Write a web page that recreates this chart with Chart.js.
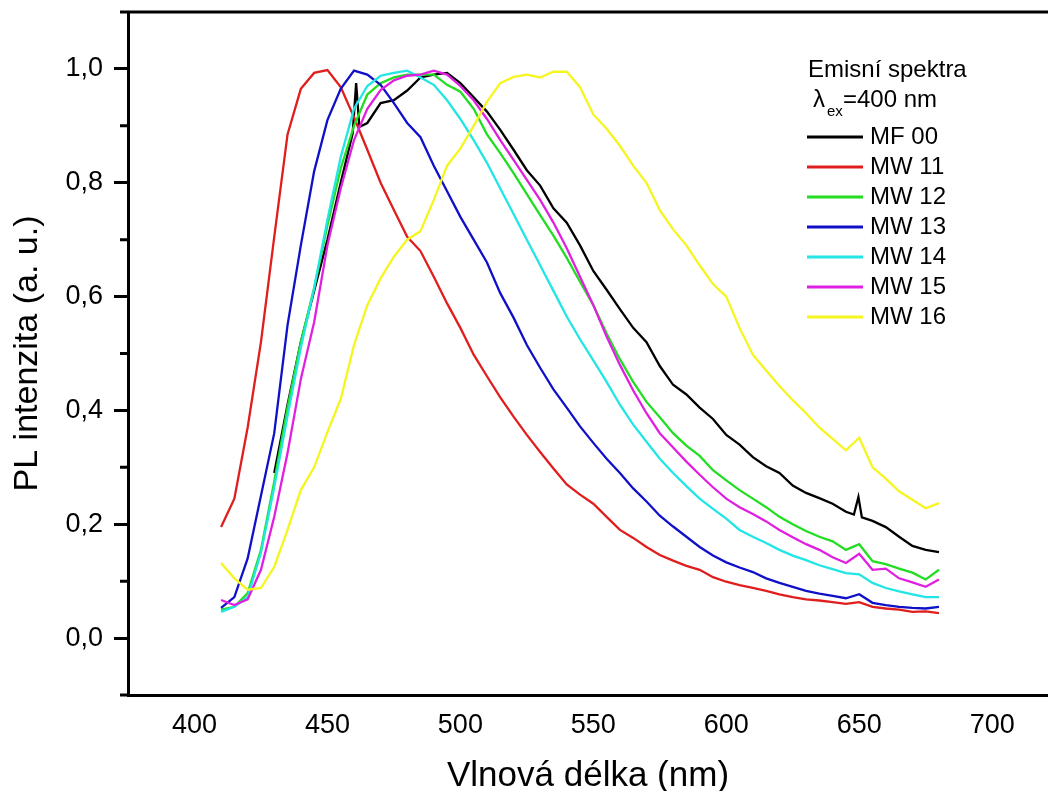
<!DOCTYPE html>
<html>
<head>
<meta charset="utf-8">
<title>Emisní spektra</title>
<script src="https://cdn.jsdelivr.net/npm/chart.js@4.4.0/dist/chart.umd.min.js"></script>
<style>
  html, body { margin: 0; padding: 0; background: #fff; }
</style>
</head>
<body>
<canvas id="spectra" width="1048" height="791"></canvas>
<script>
// wavelength grid (nm) shared by the MW samples
const wavelength = [
  410, 415, 420, 425, 430, 435, 440, 445, 450, 455,
  460, 465, 470, 475, 480, 485, 490, 495, 500, 505,
  510, 515, 520, 525, 530, 535, 540, 545, 550, 555,
  560, 565, 570, 575, 580, 585, 590, 595, 600, 605,
  610, 615, 620, 625, 630, 635, 640, 645, 650, 655,
  660, 665, 670, 675, 680,
];

// MF 00 was measured from 430 nm, with a few extra points around its spikes
const mf00Wavelength = [
  430, 435, 440, 445, 450, 455, 459.5, 460.8, 462,
  465, 470, 475, 480, 485, 490, 495, 500, 505, 510,
  515, 520, 525, 530, 535, 540, 545, 550, 555, 560,
  565, 570, 575, 580, 585, 590, 595, 600, 605, 610,
  615, 620, 625, 630, 635, 640, 645, 648, 649.7, 651,
  655, 660, 665, 670, 675, 680,
];
const mf00 = [
  0.29, 0.41, 0.52, 0.61, 0.70, 0.80, 0.887, 0.975, 0.898,
  0.905, 0.94, 0.945, 0.962, 0.985, 0.99, 0.993, 0.975, 0.95, 0.925,
  0.893, 0.858, 0.822, 0.795, 0.755, 0.73, 0.69, 0.645, 0.612, 0.578,
  0.545, 0.52, 0.478, 0.445, 0.428, 0.405, 0.385, 0.357, 0.34, 0.318,
  0.302, 0.29, 0.268, 0.255, 0.246, 0.236, 0.222, 0.217, 0.248, 0.212,
  0.206, 0.195, 0.178, 0.162, 0.155, 0.151,
];

const mw11 = [
  0.195, 0.245, 0.37, 0.52, 0.705, 0.885, 0.965, 0.993, 0.998, 0.968,
  0.915, 0.858, 0.80, 0.752, 0.705, 0.68, 0.635, 0.588, 0.545, 0.498,
  0.46, 0.423, 0.389, 0.357, 0.327, 0.298, 0.27, 0.252, 0.236, 0.213,
  0.19, 0.176, 0.16, 0.146, 0.136, 0.127, 0.12, 0.107, 0.099, 0.093,
  0.088, 0.083, 0.077, 0.072, 0.068, 0.066, 0.063, 0.06, 0.063, 0.055,
  0.052, 0.05, 0.046, 0.047, 0.044,
];
const mw12 = [
  0.05, 0.055, 0.079, 0.155, 0.275, 0.405, 0.52, 0.615, 0.725, 0.825,
  0.90, 0.955, 0.975, 0.985, 0.99, 0.99, 0.99, 0.972, 0.96, 0.93,
  0.885, 0.852, 0.817, 0.78, 0.743, 0.707, 0.668, 0.626, 0.585, 0.535,
  0.49, 0.45, 0.415, 0.388, 0.36, 0.338, 0.32, 0.295, 0.277, 0.26,
  0.245, 0.23, 0.213, 0.20, 0.188, 0.178, 0.17, 0.155, 0.165, 0.135,
  0.13, 0.122, 0.115, 0.103, 0.12,
];
const mw13 = [
  0.053, 0.072, 0.14, 0.25, 0.36, 0.55, 0.69, 0.82, 0.91, 0.965,
  0.997, 0.99, 0.972, 0.94, 0.905, 0.88, 0.83, 0.785, 0.74, 0.70,
  0.66, 0.606, 0.563, 0.515, 0.475, 0.437, 0.405, 0.372, 0.343, 0.315,
  0.29, 0.263, 0.24, 0.215, 0.196, 0.178, 0.16, 0.145, 0.133, 0.124,
  0.116, 0.105, 0.097, 0.09, 0.083, 0.078, 0.074, 0.07, 0.077, 0.062,
  0.058, 0.055, 0.053, 0.052, 0.055,
];
const mw14 = [
  0.046, 0.055, 0.072, 0.15, 0.265, 0.39, 0.51, 0.615, 0.735, 0.845,
  0.93, 0.97, 0.988, 0.993, 0.997, 0.985, 0.972, 0.945, 0.912, 0.875,
  0.835, 0.79, 0.745, 0.70, 0.655, 0.61, 0.565, 0.525, 0.488, 0.45,
  0.41, 0.375, 0.345, 0.315, 0.29, 0.267, 0.245, 0.227, 0.21, 0.19,
  0.178, 0.167, 0.155, 0.145, 0.137, 0.128, 0.121, 0.114, 0.112, 0.097,
  0.088, 0.082, 0.077, 0.072, 0.072,
];
const mw15 = [
  0.067, 0.058, 0.068, 0.12, 0.213, 0.325, 0.455, 0.555, 0.69, 0.79,
  0.875, 0.93, 0.963, 0.98, 0.988, 0.99, 0.997, 0.99, 0.97, 0.945,
  0.912, 0.875, 0.84, 0.805, 0.77, 0.73, 0.685, 0.635, 0.585, 0.53,
  0.48, 0.435, 0.395, 0.36, 0.335, 0.31, 0.287, 0.265, 0.245, 0.23,
  0.218, 0.205, 0.19, 0.177, 0.165, 0.155, 0.142, 0.132, 0.148, 0.12,
  0.122, 0.105, 0.098, 0.09, 0.103,
];
const mw16 = [
  0.132, 0.105, 0.085, 0.088, 0.125, 0.19, 0.26, 0.30, 0.362, 0.42,
  0.515, 0.585, 0.632, 0.67, 0.70, 0.715, 0.77, 0.83, 0.86, 0.90,
  0.942, 0.975, 0.986, 0.99, 0.985, 0.995, 0.995, 0.968, 0.92, 0.895,
  0.865, 0.83, 0.80, 0.752, 0.718, 0.69, 0.655, 0.622, 0.60, 0.545,
  0.498, 0.47, 0.443, 0.418, 0.395, 0.37, 0.35, 0.33, 0.352, 0.30,
  0.28, 0.258, 0.243, 0.228, 0.237,
];

const seriesLabels = ["MF 00", "MW 11", "MW 12", "MW 13", "MW 14", "MW 15", "MW 16"];
const seriesColors = ["#000000", "#e01e1e", "#22dd22", "#1010c8", "#22e5e5", "#e020e0", "#f5f520"];

const xTicks = [400, 450, 500, 550, 600, 650, 700];
const yTicks = [0, 0.2, 0.4, 0.6, 0.8, 1.0];
const yMinorTicks = [0.1, 0.3, 0.5, 0.7, 0.9];

const fontFamily = '"Liberation Sans", Arial, sans-serif';

const toPoints = (xs, ys) => xs.map((x, i) => ({ x: x, y: ys[i] }));

const seriesData = [
  toPoints(mf00Wavelength, mf00),
  toPoints(wavelength, mw11),
  toPoints(wavelength, mw12),
  toPoints(wavelength, mw13),
  toPoints(wavelength, mw14),
  toPoints(wavelength, mw15),
  toPoints(wavelength, mw16),
];

// frame line on top, minor ticks on y and the legend block
const decorations = {
  id: "decorations",
  afterDraw(chart) {
    const ctx = chart.ctx;
    const area = chart.chartArea;
    const y = chart.scales.y;
    ctx.save();
    ctx.strokeStyle = "#000";
    ctx.lineWidth = 3;
    ctx.beginPath();
    ctx.moveTo(area.left - 8, area.top);
    ctx.lineTo(area.right, area.top);
    ctx.moveTo(area.left - 8, area.bottom);
    ctx.lineTo(area.left, area.bottom);
    yMinorTicks.forEach((v) => {
      const py = y.getPixelForValue(v);
      ctx.moveTo(area.left - 8, py);
      ctx.lineTo(area.left, py);
    });
    ctx.stroke();

    // legend
    ctx.fillStyle = "#000";
    ctx.textBaseline = "middle";
    ctx.textAlign = "left";
    ctx.font = "24px " + fontFamily;
    ctx.fillText("Emisní spektra", 808, 70);
    ctx.fillText("λ", 813, 100);
    ctx.font = "15px " + fontFamily;
    ctx.fillText("ex", 827, 112);
    ctx.font = "24px " + fontFamily;
    ctx.fillText("=400 nm", 843, 100);
    chart.data.datasets.forEach((ds, i) => {
      const ly = 137 + i * 30;
      ctx.strokeStyle = ds.borderColor;
      ctx.lineWidth = 3;
      ctx.beginPath();
      ctx.moveTo(807, ly);
      ctx.lineTo(863, ly);
      ctx.stroke();
      ctx.fillText(ds.label, 870, ly);
    });
    ctx.restore();
  },
};

const ctx = document.getElementById("spectra");
new Chart(ctx, {
  type: "line",
  data: {
    datasets: seriesLabels.map((label, i) => ({
      label: label,
      data: seriesData[i],
      borderColor: seriesColors[i],
      backgroundColor: seriesColors[i],
      borderWidth: 2.3,
      pointRadius: 0,
      tension: 0,
      fill: false,
      order: seriesLabels.length - i,
    })),
  },
  options: {
    responsive: false,
    animation: false,
    devicePixelRatio: 1,
    layout: {
      padding: { top: 12, left: 0, right: 0, bottom: 0 },
    },
    plugins: {
      legend: { display: false },
      tooltip: { enabled: false },
    },
    scales: {
      x: {
        type: "linear",
        min: 375,
        max: 721,
        afterBuildTicks: (scale) => {
          scale.ticks = xTicks.map((v) => ({ value: v }));
        },
        afterFit: (scale) => {
          scale.height = 96;
          scale.paddingLeft = 0;
          scale.paddingRight = 0;
        },
        grid: { display: false },
        border: { display: true, color: "#000", width: 3 },
        ticks: {
          color: "#000",
          padding: 6,
          maxRotation: 0,
          font: { family: fontFamily, size: 27 },
        },
        title: {
          display: true,
          text: "Vlnová délka (nm)",
          color: "#000",
          font: { family: fontFamily, size: 35, lineHeight: 0.8 },
          padding: { top: 0, bottom: 1 },
        },
      },
      y: {
        min: -0.1,
        max: 1.1,
        afterBuildTicks: (scale) => {
          scale.ticks = yTicks.map((v) => ({ value: v }));
        },
        afterFit: (scale) => {
          scale.width = 128;
          scale.paddingTop = 0;
          scale.paddingBottom = 0;
        },
        grid: {
          drawOnChartArea: false,
          drawTicks: true,
          tickLength: 14,
          tickColor: "#000",
          tickWidth: 3,
          color: "#000",
          lineWidth: 3,
        },
        border: { display: true, color: "#000", width: 3 },
        ticks: {
          color: "#000",
          padding: 11,
          font: { family: fontFamily, size: 27 },
          callback: (v) => v.toFixed(1).replace(".", ","),
        },
        title: {
          display: true,
          text: "PL intenzita (a. u.)",
          color: "#000",
          font: { family: fontFamily, size: 34, lineHeight: 0.8 },
          padding: { top: 14, bottom: 0 },
        },
      },
    },
  },
  plugins: [decorations],
});
</script>
</body>
</html>
